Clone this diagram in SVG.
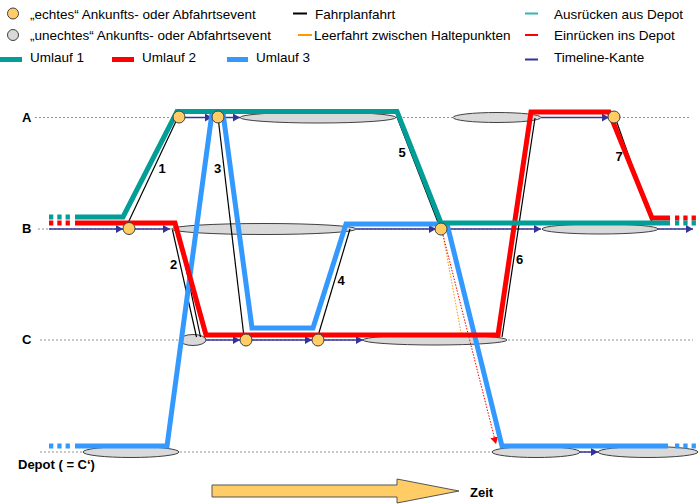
<svg xmlns="http://www.w3.org/2000/svg" width="700" height="504" viewBox="0 0 700 504">
<style>
text{font-family:"Liberation Sans",Arial,sans-serif;font-size:13.5px;fill:#000}
.lbl{font-weight:bold;font-size:13px}
.num{font-weight:bold;font-size:13px;text-anchor:middle}
.st{stroke:#777;stroke-width:0.8;stroke-dasharray:2 2;fill:none}
.ell{fill:#D9D9D9;stroke:#404040;stroke-width:1}
.ev{fill:#FFCC66;stroke:#404040;stroke-width:1}
.tl{stroke:#333399;stroke-width:1.5;fill:none;marker-end:url(#ah)}
.trip{stroke:#000;stroke-width:1.2;fill:none}
.u1{stroke:#009E96;stroke-width:5;fill:none}
.u2{stroke:#FF0000;stroke-width:5;fill:none}
.u3{stroke:#3399FF;stroke-width:5;fill:none}
.dash{stroke-dasharray:4.3 4}
</style>
<defs>
<marker id="ah" markerUnits="userSpaceOnUse" markerWidth="8" markerHeight="8" refX="7" refY="4" orient="auto"><path d="M0,0 L7,4 L0,8 z" fill="#333399"/></marker>
<marker id="aho" markerUnits="userSpaceOnUse" markerWidth="6" markerHeight="6" refX="5" refY="3" orient="auto"><path d="M0,0 L5,3 L0,6 z" fill="#FF9900"/></marker>
<marker id="ahr" markerUnits="userSpaceOnUse" markerWidth="8" markerHeight="8" refX="7" refY="4" orient="auto"><path d="M0,0 L7,4 L0,8 z" fill="#FF0000"/></marker>
</defs>

<g id="legend">
<circle class="ev" cx="13" cy="13.5" r="5.5"/>
<text x="30" y="18.5">„echtes“ Ankunfts- oder Abfahrtsevent</text>
<circle class="ell" cx="13" cy="35" r="5.5"/>
<text x="30" y="39.5">„unechtes“ Ankunfts- oder Abfahrtsevent</text>
<line x1="0" y1="59.5" x2="22" y2="59.5" class="u1"/>
<text x="30" y="62">Umlauf 1</text>
<line x1="112" y1="59.5" x2="134" y2="59.5" class="u2"/>
<text x="142" y="62">Umlauf 2</text>
<line x1="227" y1="59.5" x2="248" y2="59.5" class="u3"/>
<text x="256" y="62">Umlauf 3</text>
<line x1="293" y1="13.5" x2="307" y2="13.5" stroke="#000" stroke-width="2"/>
<text x="315" y="18.5">Fahrplanfahrt</text>
<line x1="298" y1="35" x2="312" y2="35" stroke="#FF9900" stroke-width="2"/>
<text x="314" y="39.5">Leerfahrt zwischen Haltepunkten</text>
<line x1="525" y1="13.5" x2="538" y2="13.5" stroke="#33B5B0" stroke-width="2"/>
<text x="554" y="18.5">Ausrücken aus Depot</text>
<line x1="525" y1="35" x2="538" y2="35" stroke="#FF0000" stroke-width="2"/>
<text x="554" y="39.5">Einrücken ins Depot</text>
<line x1="525" y1="59.5" x2="538" y2="59.5" stroke="#333399" stroke-width="2"/>
<text x="554" y="62">Timeline-Kante</text>
</g>

<g id="stations">
<line class="st" x1="35" y1="117.5" x2="690" y2="117.5"/>
<line class="st" x1="38" y1="229" x2="690" y2="229"/>
<line class="st" x1="40" y1="340" x2="693" y2="340"/>
<line class="st" x1="40" y1="452" x2="700" y2="452"/>
<text class="lbl" x="22" y="122">A</text>
<text class="lbl" x="22" y="233">B</text>
<text class="lbl" x="22" y="344">C</text>
<text class="lbl" x="18" y="469">Depot ( = C‘)</text>
</g>

<g id="unechte-events">
<ellipse id="ua1" class="ell" cx="318" cy="117.5" rx="78" ry="5.5"/>
<ellipse id="ua2" class="ell" cx="497" cy="117.5" rx="44" ry="5"/>
<ellipse id="ub1" class="ell" cx="264" cy="229" rx="92" ry="5.5"/>
<ellipse id="ub2" class="ell" cx="600" cy="229" rx="58" ry="5"/>
<ellipse id="uc1" class="ell" cx="193" cy="340" rx="13" ry="5.5"/>
<ellipse id="uc2" class="ell" cx="435" cy="340" rx="72" ry="5"/>
<ellipse id="ud1" class="ell" cx="131" cy="452" rx="48" ry="5.5"/>
<ellipse id="ud2" class="ell" cx="536" cy="452" rx="44" ry="5.5"/>
<ellipse id="ud3" class="ell" cx="648" cy="452" rx="50" ry="5.5"/>
</g>

<g id="connectors">
<g id="timeline">
<line class="tl" x1="184" y1="117.5" x2="212" y2="117.5"/>
<line class="tl" x1="224" y1="117.5" x2="240" y2="117.5"/>
<line class="tl" x1="541" y1="117.5" x2="609" y2="117.5"/>
<line class="tl" x1="49" y1="229" x2="123" y2="229"/>
<line class="tl" x1="134" y1="229" x2="170" y2="229"/>
<line class="tl" x1="356" y1="229" x2="436" y2="229"/>
<line class="tl" x1="447" y1="229" x2="541" y2="229"/>
<line class="tl" x1="658" y1="229" x2="693" y2="229"/>
<line class="tl" x1="206" y1="340" x2="240" y2="340"/>
<line class="tl" x1="251" y1="340" x2="312" y2="340"/>
<line class="tl" x1="324" y1="340" x2="363" y2="340"/>
<line class="tl" x1="580" y1="452" x2="598" y2="452"/>
</g>
<g id="leerfahrten">
<line x1="443" y1="235" x2="462" y2="338" stroke="#FF9900" stroke-width="1" stroke-dasharray="1.5 1.5" marker-end="url(#aho)"/>
<line x1="443" y1="235" x2="496" y2="444" stroke="#FF0000" stroke-width="1" stroke-dasharray="1.5 1.5" marker-end="url(#ahr)"/>
</g>
<g id="fahrplanfahrten">
<line class="trip" x1="128" y1="223" x2="178" y2="117"/>
<line class="trip" x1="172.5" y1="230" x2="196.5" y2="337"/>
<line class="trip" x1="178" y1="230" x2="200.5" y2="337"/>
<line class="trip" x1="218" y1="117" x2="244" y2="337"/>
<line class="trip" x1="318" y1="336" x2="350" y2="229"/>
<line class="trip" x1="397" y1="117" x2="439" y2="225"/>
<line class="trip" x1="502" y1="337" x2="535" y2="118"/>
<line class="trip" x1="615" y1="117" x2="652" y2="222"/>
<text class="num" x="162" y="173">1</text>
<text class="num" x="173.5" y="269">2</text>
<text class="num" x="217.5" y="173">3</text>
<text class="num" x="341" y="285">4</text>
<text class="num" x="402" y="157">5</text>
<text class="num" x="519.5" y="264">6</text>
<text class="num" x="619" y="161">7</text>
</g>
<g id="umlauf3">
<path class="u3 dash" d="M49,446 H71"/>
<path class="u3" d="M75,446 H167 L212,113 H223 L252,328 H313 L346,224 H447 L502,446 H668"/>
<path class="u3 dash" d="M675,446 H698"/>
</g>
<g id="umlauf2">
<path class="u2 dash" d="M49,223 H71"/>
<path class="u2" d="M75,223 H175 L206,335 H498 L531,112 H609 L652,218 H670"/>
<path class="u2 dash" d="M675,218 H698"/>
</g>
<g id="umlauf1">
<path class="u1 dash" d="M49,217 H71"/>
<path class="u1" d="M75,217 H123 L177,111.5 H397 L441,223 H670"/>
<path class="u1 dash" d="M675,223 H698"/>
</g>
</g>

<g id="echte-events">
<circle id="ea1" class="ev" cx="179" cy="117" r="6"/>
<circle id="ea2" class="ev" cx="218" cy="117" r="6"/>
<circle id="ea3" class="ev" cx="614" cy="117" r="6"/>
<circle id="eb1" class="ev" cx="129" cy="228.5" r="6"/>
<circle id="eb2" class="ev" cx="441" cy="229" r="6"/>
<circle id="ec1" class="ev" cx="246" cy="340" r="6"/>
<circle id="ec2" class="ev" cx="318" cy="340" r="6"/>
</g>

<g id="zeit">
<polygon points="212,485 397,485 397,479 459,491 397,503 397,497 212,497" fill="#FFCC66" stroke="#555" stroke-width="1"/>
<text class="lbl" x="470" y="497">Zeit</text>
</g>
</svg>
